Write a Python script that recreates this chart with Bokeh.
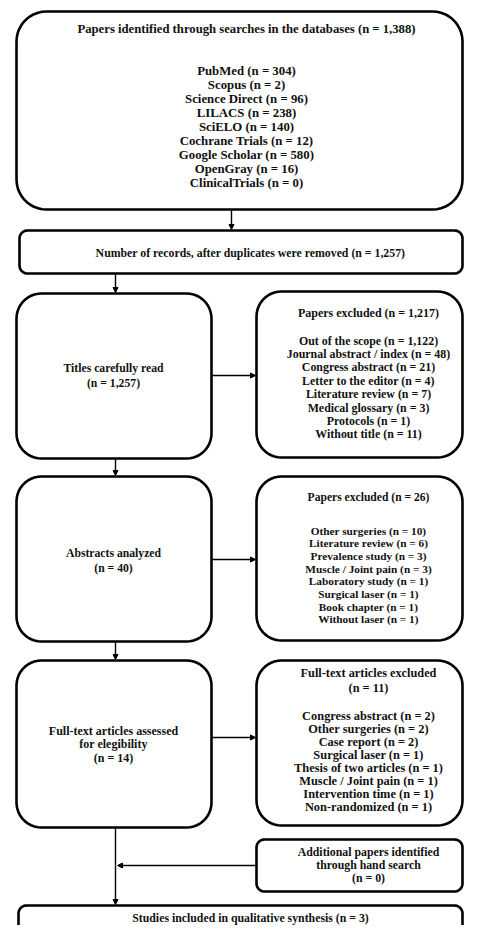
import numpy as np
from bokeh.plotting import figure
from bokeh.models import Range1d, Arrow, NormalHead
from bokeh.core.properties import value
from bokeh.embed import file_html
from bokeh.resources import INLINE

# ---------------- data ----------------
identified_total = 1388
databases = ["PubMed", "Scopus", "Science Direct", "LILACS", "SciELO",
             "Cochrane Trials", "Google Scholar", "OpenGray", "ClinicalTrials"]
database_counts = [304, 2, 96, 238, 140, 12, 580, 16, 0]

after_duplicates = 1257
titles_read = 1257

titles_excluded_total = 1217
titles_excluded_reasons = ["Out of the scope", "Journal abstract / index", "Congress abstract",
                           "Letter to the editor", "Literature review", "Medical glossary",
                           "Protocols", "Without title"]
titles_excluded_counts = [1122, 48, 21, 4, 7, 3, 1, 11]

abstracts_analyzed = 40
abstracts_excluded_total = 26
abstracts_excluded_reasons = ["Other surgeries", "Literature review", "Prevalence study",
                              "Muscle / Joint pain", "Laboratory study", "Surgical laser",
                              "Book chapter", "Without laser"]
abstracts_excluded_counts = [10, 6, 3, 3, 1, 1, 1, 1]

fulltext_assessed = 14
fulltext_excluded_total = 11
fulltext_excluded_reasons = ["Congress abstract", "Other surgeries", "Case report",
                             "Surgical laser", "Thesis of two articles", "Muscle / Joint pain",
                             "Intervention time", "Non-randomized"]
fulltext_excluded_counts = [2, 2, 2, 1, 1, 1, 1, 1]

hand_search = 0
included = 3


def fmt(n):
    return f"{n:,}"


# ---------------- figure ----------------
p = figure(width=465, height=925, x_range=Range1d(0, 465), y_range=Range1d(925, 0),
           output_backend="svg", toolbar_location=None, min_border=0)
p.axis.visible = False
p.grid.visible = False
p.outline_line_color = None
p.background_fill_color = "white"

FONT = value("Liberation Serif")
TXT = "#111111"
R = 462  # right edge of the boxes (picture edge)


def rrect(l, t, r, b, rad):
    xs, ys = [], []
    corners = [(r - rad, t + rad, -90, 0), (r - rad, b - rad, 0, 90),
               (l + rad, b - rad, 90, 180), (l + rad, t + rad, 180, 270)]
    for cx, cy, a0, a1 in corners:
        a = np.radians(np.linspace(a0, a1, 12))
        xs.extend(cx + rad * np.cos(a))
        ys.extend(cy + rad * np.sin(a))
    return xs, ys


def box(l, t, r, b, rad, lw=2.6):
    xs, ys = rrect(l, t, r, b, rad)
    p.patch(xs, ys, fill_color="white", line_color="black", line_width=lw)


def lines(x, y0, dy, texts, size):
    ys = [y0 + i * dy for i in range(len(texts))]
    p.text(x=[x] * len(texts), y=ys, text=texts, text_font=FONT, text_font_style="bold",
           text_font_size=size, text_align="center", text_baseline="middle", text_color=TXT)


def arrow(x0, y0, x1, y1):
    p.add_layout(Arrow(x_start=x0, y_start=y0, x_end=x1, y_end=y1, line_width=1.4,
                       line_color="black",
                       end=NormalHead(size=5, fill_color="black", line_color="black")))


def seg(x0, y0, x1, y1):
    p.line([x0, x1], [y0, y1], line_color="black", line_width=1.4)


# connectors
arrow(231, 209, 231, 229)
arrow(115, 273, 115, 292)
arrow(211, 375, 255, 375)
arrow(115, 458, 115, 475)
arrow(211, 559, 255, 559)
arrow(115, 641, 115, 659)
arrow(211, 737, 255, 737)
seg(115, 827, 115, 865)
arrow(115, 865, 115, 904)
arrow(256, 865, 117, 865)

# boxes
box(16, 11, R, 209, 30)
box(19, 230, R, 273, 8)
box(16, 293, 211, 458, 25)
box(256, 291, R, 457, 25)
box(16, 476, 211, 641, 25)
box(256, 476, R, 640, 25)
box(16, 660, 211, 827, 25)
box(256, 660, R, 825, 25)
box(256, 839, R, 891, 8)
box(18, 905, R, 975, 8)

# texts
lines(246, 28, 0, [f"Papers identified through searches in the databases (n = {fmt(identified_total)})"], "12.7px")
lines(246, 70, 14.1, [f"{d} (n = {fmt(c)})" for d, c in zip(databases, database_counts)], "12.8px")

lines(250, 252, 0, [f"Number of records, after duplicates were removed (n = {fmt(after_duplicates)})"], "11.8px")

lines(113, 368, 14.5, ["Titles carefully read", f"(n = {fmt(titles_read)})"], "11.7px")
lines(368, 312, 0, [f"Papers excluded (n = {fmt(titles_excluded_total)})"], "12px")
lines(368, 340, 13.4, [f"{r} (n = {fmt(c)})" for r, c in zip(titles_excluded_reasons, titles_excluded_counts)], "11.9px")

lines(113, 553, 14.5, ["Abstracts analyzed", f"(n = {fmt(abstracts_analyzed)})"], "11.7px")
lines(368, 497, 0, [f"Papers excluded (n = {fmt(abstracts_excluded_total)})"], "11.6px")
lines(368, 530, 12.7, [f"{r} (n = {fmt(c)})" for r, c in zip(abstracts_excluded_reasons, abstracts_excluded_counts)], "11.3px")

lines(113, 730, 13.5, ["Full-text articles assessed", "for elegibility", f"(n = {fmt(fulltext_assessed)})"], "12px")
lines(368, 672, 15, ["Full-text articles excluded", f"(n = {fmt(fulltext_excluded_total)})"], "12.3px")
lines(368, 715, 13.0, [f"{r} (n = {fmt(c)})" for r, c in zip(fulltext_excluded_reasons, fulltext_excluded_counts)], "12.4px")

lines(368, 851, 13.2, ["Additional papers identified", "through hand search", f"(n = {fmt(hand_search)})"], "11.8px")

lines(250, 917, 0, [f"Studies included in qualitative synthesis (n = {fmt(included)})"], "11.8px")

open("out.html", "w").write(file_html(p, INLINE))
